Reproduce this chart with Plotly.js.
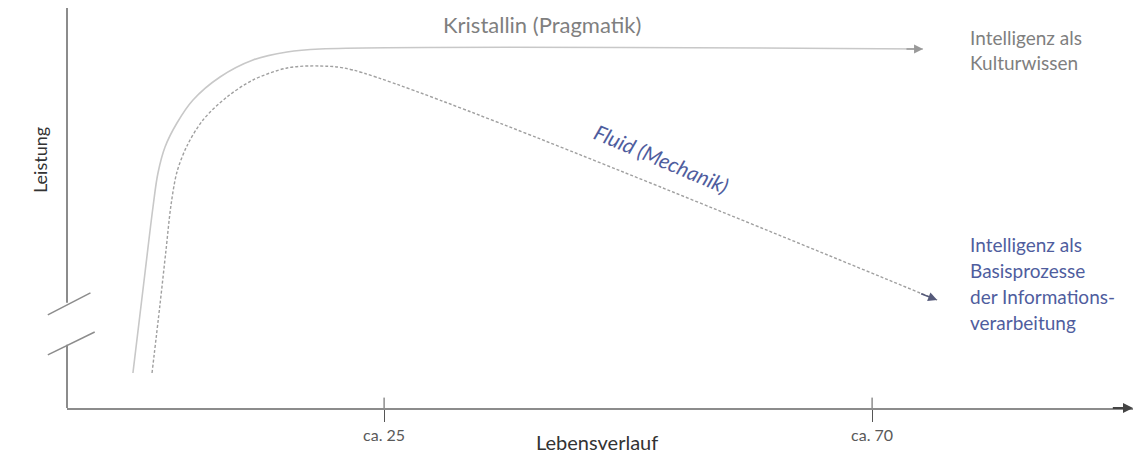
<!DOCTYPE html>
<html>
<head>
<meta charset="utf-8">
<script src="https://cdn.plot.ly/plotly-3.0.1.min.js"></script>
<style>html,body{margin:0;padding:0;background:#fff}#chart{width:1144px;height:455px}</style>
</head>
<body>
<div id="chart"></div>
<script>
// Lebensalter (Jahre) und Leistung (0-100, willkürliche Einheit)
const kristallinAge = [1.84, 2.95, 3.69, 4.15, 4.80, 5.90, 7.38, 9.87, 12.91, 16.05, 19.09, 74.7];
const kristallinLeistung = [8.75, 33.75, 50.25, 58.75, 65.25, 71.25, 77, 82.75, 87, 89, 89.75, 89.75];
const fluidAge = [3.60, 4.33, 4.89, 5.35, 5.90, 6.82, 8.30, 10.51, 12.91, 16.05, 19.09, 22.13, 76.0];
const fluidLeistung = [8.75, 25.75, 39.5, 50.75, 59, 65.5, 72, 77.75, 82, 85, 85.5, 84.5, 27];
const tickVals = [25, 70];
const tickText = ['ca. 25', 'ca. 70'];
const kristallinLabel = 'Kristallin (Pragmatik)';
const fluidLabel = 'Fluid (Mechanik)';
const kulturLines = ['Intelligenz als', 'Kulturwissen'];
const basisLines = ['Intelligenz als', 'Basisprozesse', 'der Informations-', 'verarbeitung'];

const FONT = 'Lato, "Open Sans", sans-serif';
const GRAY_TXT = '#7f7f7f';
const BLUE_TXT = '#4f5d9e';

const traces = [
  {x: kristallinAge, y: kristallinLeistung, mode: 'lines', type: 'scatter',
   line: {color: '#c8c8c8', width: 1.6, shape: 'spline', smoothing: 1.0}, hoverinfo: 'skip'},
  {x: fluidAge, y: fluidLeistung, mode: 'lines', type: 'scatter',
   line: {color: '#a0a0a0', width: 1.4, dash: '3px,2px', shape: 'spline', smoothing: 0.9}, hoverinfo: 'skip'}
];

const xMin = -4.24, xMax = 94.06;
const annotations = [];
function arrowEnd(xs, ys, color) {
  const n = xs.length;
  annotations.push({x: xs[n-1], y: ys[n-1], ax: xs[n-1] - (xs[n-1]-xs[n-2])*0.03, ay: ys[n-1] - (ys[n-1]-ys[n-2])*0.03,
    axref: 'x', ayref: 'y', xref: 'x', yref: 'y', text: '', showarrow: true,
    arrowhead: 2, arrowsize: 1.2, arrowwidth: 1.5, arrowcolor: color});
}
arrowEnd(kristallinAge, kristallinLeistung, '#999999');
arrowEnd(fluidAge, fluidLeistung, '#555a7a');
// x-axis arrow
annotations.push({x: xMax, y: 0, ax: xMax - 2, ay: 0, axref: 'x', ayref: 'y', xref: 'x', yref: 'y',
  text: '', showarrow: true, arrowhead: 2, arrowsize: 1, arrowwidth: 2, arrowcolor: '#444'});

annotations.push({x: 39.6, y: 95.8, xref: 'x', yref: 'y', text: kristallinLabel, showarrow: false,
  font: {family: FONT, size: 22, color: GRAY_TXT}});
annotations.push({x: 50.6, y: 62.5, xref: 'x', yref: 'y', text: '<i>' + fluidLabel + '</i>', showarrow: false,
  textangle: 23, font: {family: FONT, size: 21, color: BLUE_TXT}});
const kulturY = [92.75, 86.5];
kulturLines.forEach((t, i) => annotations.push({x: 78.85, y: kulturY[i], xref: 'x', yref: 'y', text: t,
  showarrow: false, xanchor: 'left', font: {family: FONT, size: 19, color: GRAY_TXT}}));
const basisY = [41, 34.5, 28, 21.5];
basisLines.forEach((t, i) => annotations.push({x: 78.85, y: basisY[i], xref: 'x', yref: 'y', text: t,
  showarrow: false, xanchor: 'left', font: {family: FONT, size: 19, color: BLUE_TXT}}));
annotations.push({x: 0.497, y: -0.085, xref: 'paper', yref: 'paper', xanchor: 'center', yanchor: 'middle',
  text: 'Lebensverlauf', showarrow: false, font: {family: FONT, size: 20, color: '#333'}});
annotations.push({x: -0.0253, y: 0.62, xref: 'paper', yref: 'paper', xanchor: 'center', yanchor: 'middle',
  text: 'Leistung', showarrow: false, textangle: -90, font: {family: FONT, size: 18, color: '#333'}});

const shapes = [];
// y-axis with break
shapes.push({type: 'line', xref: 'paper', yref: 'y', x0: 0, x1: 0, y0: 100, y1: 26.3, line: {color: '#8c8c8c', width: 2}});
shapes.push({type: 'line', xref: 'paper', yref: 'y', x0: 0, x1: 0, y0: 15.8, y1: 0, line: {color: '#8c8c8c', width: 2}});
shapes.push({type: 'line', xref: 'paper', yref: 'paper', x0: -0.018, x1: 0.022, y0: 0.233, y1: 0.288, line: {color: '#8c8c8c', width: 1.5}});
shapes.push({type: 'line', xref: 'paper', yref: 'paper', x0: -0.018, x1: 0.026, y0: 0.133, y1: 0.19, line: {color: '#8c8c8c', width: 1.5}});
// tick marks crossing the axis
tickVals.forEach(v => shapes.push({type: 'line', xref: 'x', yref: 'y', x0: v, x1: v, y0: 0, y1: 2.6, line: {color: '#555', width: 1}}));

const layout = {
  width: 1144, height: 455,
  margin: {l: 67, r: 11, t: 8, b: 47},
  paper_bgcolor: '#fff', plot_bgcolor: '#fff',
  showlegend: false,
  xaxis: {range: [xMin, xMax], showgrid: false, zeroline: false, showline: true, linecolor: '#8c8c8c', linewidth: 2,
    tickvals: tickVals, ticktext: tickText, ticks: 'outside', ticklen: 12, tickcolor: '#555', tickwidth: 1,
    tickfont: {family: FONT, size: 16, color: '#595959'}, fixedrange: true},
  yaxis: {range: [0, 100], visible: false, fixedrange: true},
  annotations: annotations,
  shapes: shapes
};
Plotly.newPlot('chart', traces, layout, {displayModeBar: false, staticPlot: true});
</script>
</body>
</html>
